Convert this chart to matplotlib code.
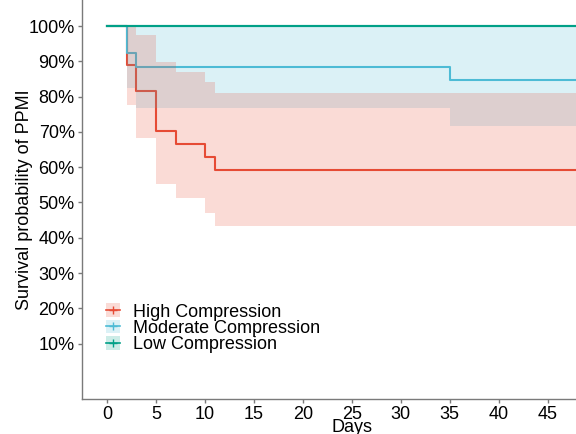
import numpy as np
import matplotlib
matplotlib.use("Agg")
import matplotlib.pyplot as plt
from matplotlib.patches import Patch
from matplotlib.lines import Line2D

plt.rcParams['font.family'] = ['Liberation Sans', 'DejaVu Sans']

groups = ["High Compression", "Moderate Compression", "Low Compression"]
colors = ["#E64B35", "#4DBBD5", "#00A087"]

# Kaplan-Meier step estimates with 95% CI
high_time = [0, 2, 3, 5, 7, 10, 11, 50]
high_surv = [1.0, 0.889, 0.815, 0.704, 0.667, 0.630, 0.593, 0.593]
high_upper = [1.0, 1.0, 0.974, 0.897, 0.869, 0.841, 0.809, 0.809]
high_lower = [1.0, 0.776, 0.682, 0.552, 0.512, 0.471, 0.433, 0.433]

mod_time = [0, 2, 3, 35, 50]
mod_surv = [1.0, 0.923, 0.885, 0.846, 0.846]
mod_upper = [1.0, 1.0, 1.0, 1.0, 1.0]
mod_lower = [1.0, 0.825, 0.769, 0.718, 0.718]

low_time = [0, 50]
low_surv = [1.0, 1.0]
low_upper = [1.0, 1.0]
low_lower = [1.0, 1.0]

curves = [
    (high_time, high_surv, high_lower, high_upper),
    (mod_time, mod_surv, mod_lower, mod_upper),
    (low_time, low_surv, low_lower, low_upper),
]

x_ticks = [0, 5, 10, 15, 20, 25, 30, 35, 40, 45]
y_ticks = [0.1, 0.2, 0.3, 0.4, 0.5, 0.6, 0.7, 0.8, 0.9, 1.0]

fig = plt.figure(figsize=(5.76, 4.34), dpi=100)
ax = fig.add_axes([81.6 / 576, 35 / 434, 1 - 81.6 / 576, 1 - 35 / 434])

# lines first, ribbons over them (high ribbon on top)
for (t, s, lo, up), c in zip(curves, colors):
    ax.step(t, s, where='post', color=c, lw=1.5, zorder=2)
for i in [2, 1, 0]:
    t, s, lo, up = curves[i]
    ax.fill_between(t, lo, up, step='post', color=colors[i], alpha=0.2,
                    lw=0, zorder=3 + (2 - i))
ax.step(low_time, low_surv, where='post', color=colors[2], lw=1.5, zorder=6)

ax.set_xlim(-2.6, 47.9)
ax.set_ylim(-0.057, 1.074)
ax.set_xticks(x_ticks)
ax.set_yticks(y_ticks)
ax.set_yticklabels([f"{int(round(v * 100))}%" for v in y_ticks])

for side in ['top', 'right']:
    ax.spines[side].set_visible(False)
for side in ['left', 'bottom']:
    ax.spines[side].set_color('#7a7a7a')
    ax.spines[side].set_linewidth(1.0)
ax.tick_params(colors='#7a7a7a', labelcolor='black', labelsize=13,
               length=3, width=1.0, pad=2)

ax.set_xlabel("Days", fontsize=13)
ax.xaxis.set_label_coords(0.547, -0.05)
ax.set_ylabel("Survival probability of PPMI", fontsize=13, labelpad=-3)

handles = []
for c in colors:
    handles.append((Patch(facecolor=c, alpha=0.2, edgecolor='none'),
                    Line2D([], [], color=c, marker='+', lw=1.2, markersize=6)))
ax.legend(handles, groups, loc='lower left', bbox_to_anchor=(0.05, 0.115),
          frameon=False, fontsize=13, handlelength=0.75, handleheight=0.8,
          labelspacing=-0.05, handletextpad=0.75, borderpad=0, borderaxespad=0)

fig.savefig("out.png", dpi=100)
